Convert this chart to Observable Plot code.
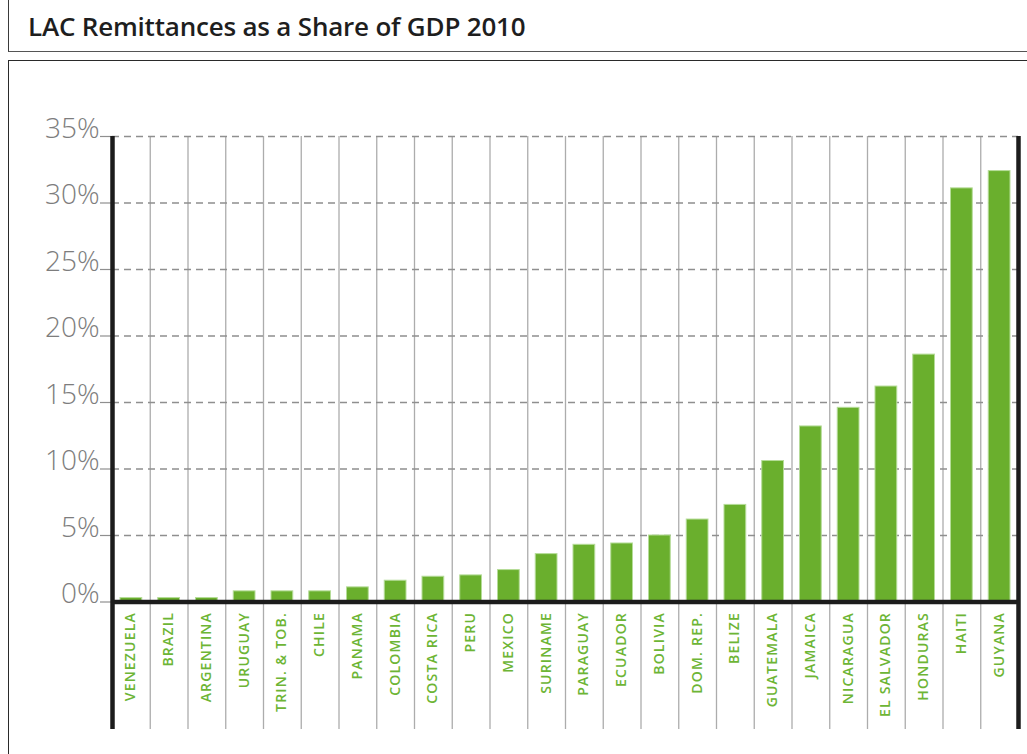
<!DOCTYPE html>
<html>
<head>
<meta charset="utf-8">
<script src="https://cdn.jsdelivr.net/npm/d3@7"></script>
<script src="https://cdn.jsdelivr.net/npm/@observablehq/plot@0.6"></script>
<style>
  html, body { margin: 0; padding: 0; background: #fff; }
  body { width: 1027px; height: 754px; position: relative; overflow: hidden; font-family: "Open Sans", sans-serif; }
  #titlebox { position: absolute; left: 8px; top: 0; width: 1019px; height: 52px; border-left: 1.5px solid #3a3a3a; border-bottom: 1.5px solid #555; box-sizing: border-box; }
  #title { position: absolute; left: 28px; top: 8px; font-size: 26px; font-weight: 600; color: #1e1e1e; white-space: nowrap; letter-spacing: -0.2px; }
  #chartbox { position: absolute; left: 8px; top: 60px; width: 1019px; height: 694px; border-left: 1.5px solid #2a2a2a; border-top: 1.5px solid #2a2a2a; box-sizing: border-box; }
  #chart { position: absolute; left: 0; top: 60px; }
</style>
</head>
<body>
<div id="titlebox"></div>
<div id="title">LAC Remittances as a Share of GDP 2010</div>
<div id="chartbox"></div>
<div id="chart"></div>
<script>
const countries = ["VENEZUELA", "BRAZIL", "ARGENTINA", "URUGUAY", "TRIN. & TOB.", "CHILE", "PANAMA", "COLOMBIA", "COSTA RICA", "PERU", "MEXICO", "SURINAME", "PARAGUAY", "ECUADOR", "BOLIVIA", "DOM. REP.", "BELIZE", "GUATEMALA", "JAMAICA", "NICARAGUA", "EL SALVADOR", "HONDURAS", "HAITI", "GUYANA"];
const shares = [0.3, 0.3, 0.3, 0.8, 0.8, 0.8, 1.1, 1.6, 1.9, 2.0, 2.4, 3.6, 4.3, 4.4, 5.0, 6.2, 7.3, 10.6, 13.2, 14.6, 16.2, 18.6, 31.1, 32.4];
const yTicks = [0, 5, 10, 15, 20, 25, 30, 35];
const yTickLabels = ["0%", "5%", "10%", "15%", "20%", "25%", "30%", "35%"];

const data = countries.map((c, i) => ({country: c, share: shares[i]}));

const W = 1027, H = 694, mL = 112, mR = 9, mT = 76, mB = 152.5;
const innerW = W - mL - mR;
const step = innerW / countries.length;
const below = -127.5; // extension of vertical rules under the baseline

const green = "#6aaf2d";
const labelGreen = "#6db535";

const chart = Plot.plot({
  width: W,
  height: H,
  marginLeft: mL,
  marginRight: mR,
  marginTop: mT,
  marginBottom: mB,
  style: {background: "transparent", overflow: "visible"},
  x: {domain: countries, padding: 0, round: false, axis: null},
  y: {domain: [0, 35], axis: null},
  marks: [
    // category separators
    Plot.ruleX(countries.slice(1), {x: d => d, dx: -step / 2, stroke: "#acacac", strokeWidth: 1.3, insetBottom: below}),
    // dashed gridlines
    Plot.ruleY(yTicks.slice(1), {y: d => d, stroke: "#8f8f8f", strokeWidth: 1.3, strokeDasharray: "7,5"}),
    // left tick marks
    Plot.ruleY(yTicks, {y: d => d, stroke: "#8f8f8f", strokeWidth: 1.2, insetLeft: -12, insetRight: innerW}),
    // bars
    Plot.barY(data, {x: "country", y: "share", fill: green, stroke: "#b5dc98", strokeWidth: 1, insetLeft: 8, insetRight: 8}),
    // baseline
    Plot.ruleY([0], {stroke: "#1c1c1c", strokeWidth: 4.5}),
    // left and right heavy axes
    Plot.ruleX([countries[0]], {x: d => d, dx: -step / 2, stroke: "#1c1c1c", strokeWidth: 4.5, insetBottom: below}),
    Plot.ruleX([countries[countries.length - 1]], {x: d => d, dx: step / 2, stroke: "#1c1c1c", strokeWidth: 4.5, insetBottom: below}),
    // y labels
    Plot.text(yTicks, {y: d => d, text: (d, i) => yTickLabels[i], frameAnchor: "left", dx: -13, dy: 1, textAnchor: "end", lineAnchor: "bottom", fill: "#7d7d7d", fontSize: 28, fontWeight: 300, fontFamily: "Open Sans, sans-serif"}),
    // x labels
    Plot.text(countries, {x: d => d, frameAnchor: "bottom", dx: 4, dy: 10, rotate: -90, textAnchor: "end", fill: labelGreen, fontSize: 14, fontWeight: 600, fontFamily: "Open Sans, sans-serif"})
  ]
});
chart.querySelectorAll("text").forEach(t => {
  const tr = t.getAttribute("transform") || "";
  if (tr.includes("rotate")) t.style.letterSpacing = "1.2px";
});
document.getElementById("chart").appendChild(chart);
</script>
</body>
</html>
